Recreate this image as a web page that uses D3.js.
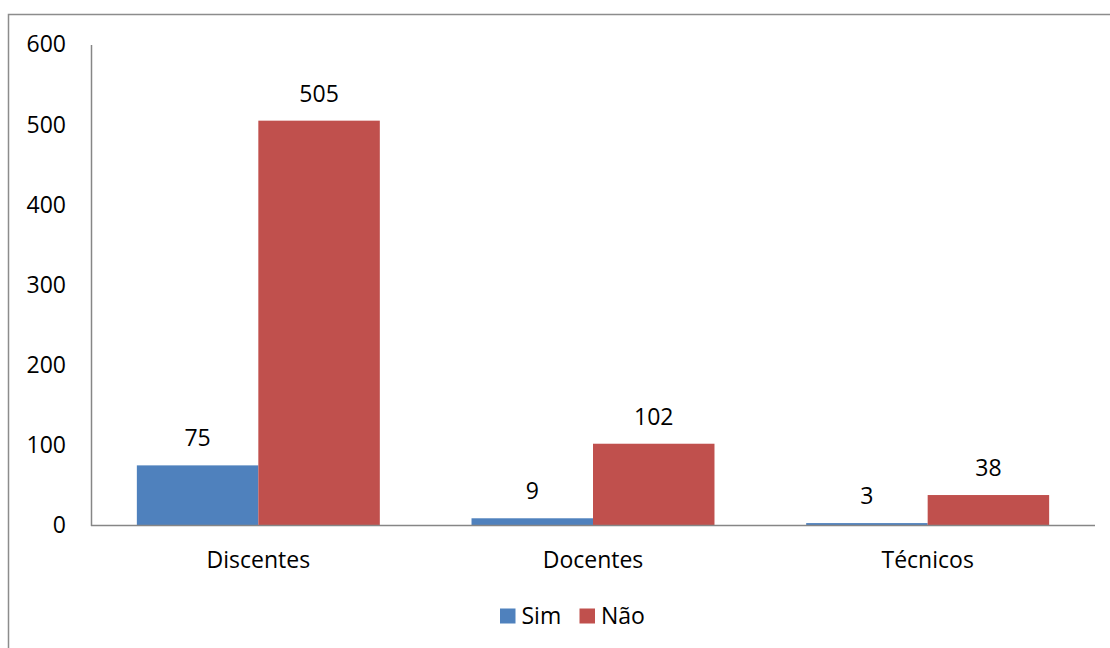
<!DOCTYPE html>
<html>
<head>
<meta charset="utf-8">
<script src="https://cdn.jsdelivr.net/npm/d3@7"></script>
<style>
  html, body { margin: 0; padding: 0; background: #fff; }
  svg { display: block; }
  text { font-family: "Open Sans", sans-serif; fill: #000; }
</style>
</head>
<body>
<svg id="chart" width="1110" height="648"></svg>
<script>
// Responses by group
const categories = ["Discentes", "Docentes", "Técnicos"];
const seriesNames = ["Sim", "Não"];
const simValues = [75, 9, 3];
const naoValues = [505, 102, 38];
const yTicks = [0, 100, 200, 300, 400, 500, 600];
const colors = ["#4F81BD", "#C0504D"];

const FONT = "'Open Sans', sans-serif";
const FS = 23;

const svg = d3.select("#chart");
const W = 1110, H = 648;

// chart frame
svg.append("rect")
  .attr("x", 8.5).attr("y", 14.5)
  .attr("width", W + 20).attr("height", H + 20)
  .attr("fill", "#fff")
  .attr("stroke", "#8c8c8c").attr("stroke-width", 1.5);

const plot = { left: 91, right: 1095, top: 44.5, bottom: 525.5 };

const x0 = d3.scaleBand()
  .domain(categories)
  .range([plot.left, plot.right])
  .paddingInner(0.274)
  .paddingOuter(0.137);

const x1 = d3.scaleBand()
  .domain(seriesNames)
  .range([0, x0.bandwidth()]);

const y = d3.scaleLinear()
  .domain([0, 600])
  .range([plot.bottom, plot.top]);

const rows = categories.map((c, i) => ({
  category: c,
  values: [
    { series: "Sim", value: simValues[i] },
    { series: "Não", value: naoValues[i] }
  ]
}));

// bars
const groups = svg.append("g").selectAll("g")
  .data(rows).join("g")
  .attr("transform", d => `translate(${x0(d.category)},0)`);

groups.selectAll("rect")
  .data(d => d.values).join("rect")
  .attr("x", d => x1(d.series))
  .attr("y", d => y(d.value))
  .attr("width", x1.bandwidth())
  .attr("height", d => y(0) - y(d.value))
  .attr("fill", (d, i) => colors[i]);

// value labels
groups.selectAll("text.val")
  .data(d => d.values).join("text")
  .attr("class", "val")
  .attr("x", d => x1(d.series) + x1.bandwidth() / 2)
  .attr("y", d => y(d.value) - 19)
  .attr("text-anchor", "middle")
  .attr("font-size", FS)
  .text(d => d.value);

// y axis
const yAxis = d3.axisLeft(y).tickValues(yTicks).tickSize(0).tickPadding(25);
const ya = svg.append("g")
  .attr("transform", `translate(${plot.left},0)`)
  .call(yAxis);
ya.select(".domain").attr("stroke", "#868686").attr("stroke-width", 1.5);
ya.selectAll("text").attr("font-size", FS).attr("font-family", FONT).attr("fill", "#000");

// x axis
const xAxis = d3.axisBottom(x0).tickSize(0).tickPadding(26.5);
const xa = svg.append("g")
  .attr("transform", `translate(0,${plot.bottom})`)
  .call(xAxis);
xa.select(".domain").attr("stroke", "#868686").attr("stroke-width", 1.5)
  .attr("d", `M${plot.left},0H${plot.right}`);
xa.selectAll("text").attr("font-size", FS).attr("font-family", FONT).attr("fill", "#000");

// legend
const legendX = [500, 579.5];
const legend = svg.append("g").selectAll("g")
  .data(seriesNames).join("g")
  .attr("transform", (d, i) => `translate(${legendX[i]},608.5)`);
legend.append("rect")
  .attr("width", 15.5).attr("height", 15)
  .attr("fill", (d, i) => colors[i]);
legend.append("text")
  .attr("x", 21.5).attr("y", 15)
  .attr("font-size", FS)
  .text(d => d);
</script>
</body>
</html>
